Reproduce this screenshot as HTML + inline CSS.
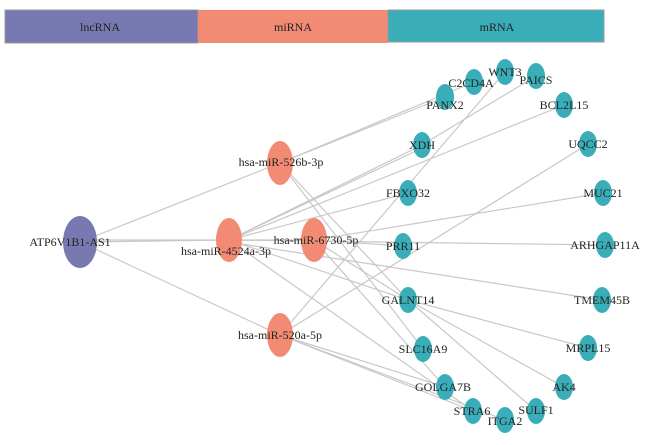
<!DOCTYPE html>
<html><head><meta charset="utf-8"><style>
body{margin:0;background:#fff;width:646px;height:440px;overflow:hidden}
svg text{font-family:"Liberation Serif",serif;font-size:12px;fill:#222}
</style></head><body>
<svg width="646" height="440" viewBox="0 0 646 440">
<rect x="5" y="10" width="193" height="33" fill="#7879b0" stroke="#999" stroke-width="1"/>
<rect x="198" y="10" width="190" height="33" fill="#f28b74"/>
<rect x="388" y="10" width="216" height="32" fill="#3aaeb8" stroke="#999" stroke-width="1"/>
<text x="100" y="31" text-anchor="middle">lncRNA</text>
<text x="293" y="31" text-anchor="middle">miRNA</text>
<text x="497" y="31" text-anchor="middle">mRNA</text>
<g stroke="#c8c8c8" stroke-width="1.2" fill="none">
<line x1="80" y1="242" x2="280" y2="163"/>
<line x1="80" y1="242" x2="229" y2="240"/>
<line x1="80" y1="240" x2="314" y2="240"/>
<line x1="80" y1="242" x2="280" y2="335"/>
<line x1="280" y1="163" x2="474" y2="82"/>
<line x1="280" y1="163" x2="445" y2="97"/>
<line x1="280" y1="163" x2="408" y2="300"/>
<line x1="280" y1="163" x2="423" y2="349"/>
<line x1="229" y1="240" x2="422" y2="145"/>
<line x1="229" y1="240" x2="422" y2="148"/>
<line x1="229" y1="240" x2="564" y2="105"/>
<line x1="229" y1="240" x2="408" y2="193"/>
<line x1="229" y1="240" x2="408" y2="300"/>
<line x1="229" y1="242" x2="602" y2="300"/>
<line x1="229" y1="240" x2="605" y2="245"/>
<line x1="229" y1="240" x2="473" y2="411"/>
<line x1="314" y1="240" x2="603" y2="193"/>
<line x1="314" y1="240" x2="403" y2="246"/>
<line x1="314" y1="240" x2="408" y2="300"/>
<line x1="314" y1="240" x2="445" y2="387"/>
<line x1="280" y1="335" x2="505" y2="72"/>
<line x1="280" y1="335" x2="588" y2="144"/>
<line x1="280" y1="335" x2="445" y2="387"/>
<line x1="280" y1="335" x2="473" y2="411"/>
<line x1="280" y1="335" x2="505" y2="420"/>
<line x1="408" y1="300" x2="588" y2="348"/>
<line x1="408" y1="300" x2="564" y2="387"/>
<line x1="408" y1="300" x2="536" y2="411"/>
<line x1="422" y1="145" x2="536" y2="76"/>
</g>
<ellipse cx="80" cy="242" rx="17" ry="26" fill="#7879b0"/>
<g fill="#f28b74">
<ellipse cx="280" cy="163" rx="13" ry="22"/>
<ellipse cx="229" cy="240" rx="13" ry="22"/>
<ellipse cx="314" cy="240" rx="13" ry="22"/>
<ellipse cx="280" cy="335" rx="13" ry="22"/>
</g>
<g fill="#3aaeb8">
<ellipse cx="505" cy="72" rx="9" ry="13"/><ellipse cx="474" cy="82" rx="9" ry="13"/>
<ellipse cx="536" cy="76" rx="9" ry="13"/><ellipse cx="445" cy="97" rx="9" ry="13"/>
<ellipse cx="564" cy="105" rx="9" ry="13"/><ellipse cx="422" cy="145" rx="9" ry="13"/>
<ellipse cx="588" cy="144" rx="9" ry="13"/><ellipse cx="408" cy="193" rx="9" ry="13"/>
<ellipse cx="603" cy="193" rx="9" ry="13"/><ellipse cx="403" cy="246" rx="9" ry="13"/>
<ellipse cx="605" cy="245" rx="9" ry="13"/><ellipse cx="408" cy="300" rx="9" ry="13"/>
<ellipse cx="602" cy="300" rx="9" ry="13"/><ellipse cx="423" cy="349" rx="9" ry="13"/>
<ellipse cx="588" cy="348" rx="9" ry="13"/><ellipse cx="445" cy="387" rx="9" ry="13"/>
<ellipse cx="564" cy="387" rx="9" ry="13"/><ellipse cx="473" cy="411" rx="9" ry="13"/>
<ellipse cx="536" cy="411" rx="9" ry="13"/><ellipse cx="505" cy="420" rx="9" ry="13"/>
</g>
<g text-anchor="middle">
<text x="70" y="246">ATP6V1B1-AS1</text>
<text x="281" y="166">hsa-miR-526b-3p</text>
<text x="226" y="255">hsa-miR-4524a-3p</text>
<text x="316" y="244">hsa-miR-6730-5p</text>
<text x="280" y="339">hsa-miR-520a-5p</text>
<text x="505" y="76">WNT3</text><text x="471" y="87">C2CD4A</text>
<text x="536" y="84">PAICS</text><text x="445" y="109">PANX2</text>
<text x="564" y="109">BCL2L15</text><text x="422" y="149">XDH</text>
<text x="588" y="148">UQCC2</text><text x="408" y="197">FBXO32</text>
<text x="603" y="197">MUC21</text><text x="403" y="250">PRR11</text>
<text x="605" y="249">ARHGAP11A</text><text x="408" y="304">GALNT14</text>
<text x="602" y="304">TMEM45B</text><text x="423" y="353">SLC16A9</text>
<text x="588" y="352">MRPL15</text><text x="443" y="391">GOLGA7B</text>
<text x="564" y="391">AK4</text><text x="472" y="415">STRA6</text>
<text x="536" y="414">SULF1</text><text x="505" y="425">ITGA2</text>
</g>
</svg>
</body></html>
